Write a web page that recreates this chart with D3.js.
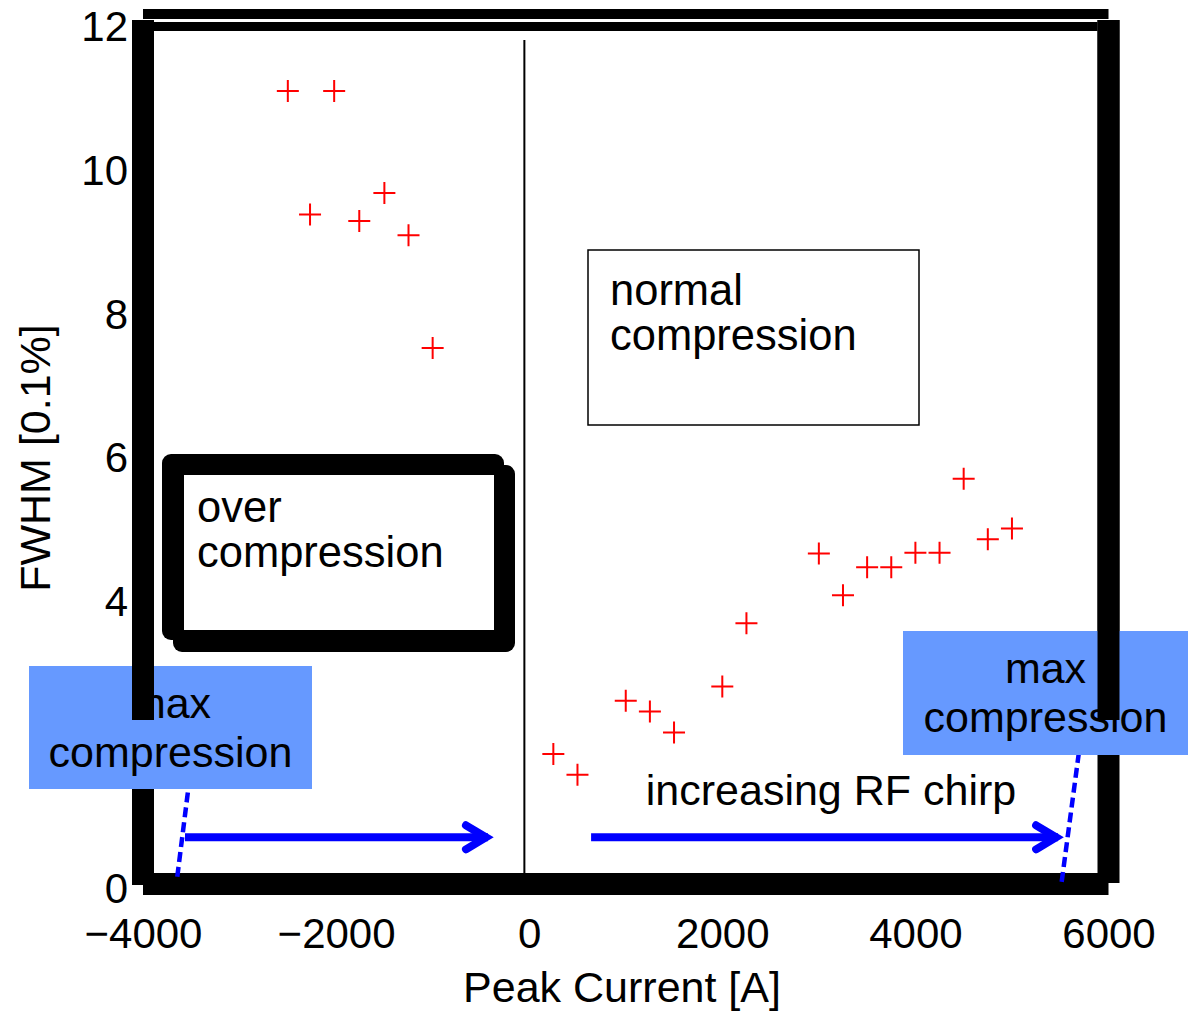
<!DOCTYPE html>
<html>
<head>
<meta charset="utf-8">
<script src="https://cdn.jsdelivr.net/npm/d3@7"></script>
<style>
  html, body { margin: 0; padding: 0; background: #fff; }
  svg { display: block; }
  text { font-family: "Liberation Sans", Arial, Helvetica, sans-serif; fill: #000; }
</style>
</head>
<body>
<svg id="chart" width="1188" height="1012"></svg>
<script>
// Measured bunch length (FWHM) versus peak current
const peakCurrent = [-2500, -2270, -2020, -1760, -1500, -1250, -1000,
                     250, 500, 1000, 1250, 1500, 2000, 2250, 3000, 3250,
                     3500, 3750, 4000, 4250, 4500, 4750, 5000];
const fwhm = [11.04, 9.32, 11.04, 9.23, 9.62, 9.03, 7.46,
              1.81, 1.52, 2.55, 2.40, 2.11, 2.75, 3.63, 4.60, 4.02,
              4.41, 4.41, 4.61, 4.61, 5.64, 4.80, 4.95];

const xTicks = [-4000, -2000, 0, 2000, 4000, 6000];
const yTicks = [0, 2, 4, 6, 8, 10, 12];
const xDomain = [-4000, 6000];
const yDomain = [0, 12];

// Regime boundary and chirp-direction arrows (data units)
const boundaryX = -50;
const boundaryTop = 11.75;
const arrowStartX = [-3565, 641];
const arrowTipX = [-365, 5540];
const arrowY = 0.65;
// Max-compression guide lines: [x0, y0, x1, y1]
const maxCompLines = [[-3645, 0.1, -3440, 2.3], [5515, 0.03, 5730, 2.2]];

const svg = d3.select("#chart");
const x = d3.scaleLinear().domain(xDomain).range([143, 1108.5]);
const y = d3.scaleLinear().domain(yDomain).range([884, 22]);

const X0 = x(xDomain[0]), X1 = x(xDomain[1]);
const Y0 = y(yDomain[0]), Y1 = y(yDomain[1]);
const W = 22; // axis frame thickness

// Axis frame (heavy box)
const frame = svg.append("g").attr("fill", "#000");
frame.append("rect").attr("x", X0 - W / 2).attr("y", Y1 - 2).attr("width", W).attr("height", Y0 - Y1 + 3);
frame.append("rect").attr("x", X1 - W / 2).attr("y", Y1 - 2).attr("width", W).attr("height", Y0 - Y1 + 1);
frame.append("rect").attr("x", X0).attr("y", Y0 - W / 2).attr("width", X1 - X0).attr("height", W);
frame.append("rect").attr("x", X0).attr("y", Y1 - 13).attr("width", X1 - X0).attr("height", 10);
frame.append("rect").attr("x", X0 + W / 2).attr("y", Y1).attr("width", X1 - X0 - W).attr("height", 9);

// Tick labels
const fmt = d => (d < 0 ? "\u2212" + Math.abs(d) : String(d));
const xAxis = svg.append("g").attr("transform", `translate(0,${Y0})`)
  .call(d3.axisBottom(x).tickValues(xTicks).tickSize(0).tickPadding(34).tickFormat(fmt));
const yAxis = svg.append("g").attr("transform", `translate(${X0},0)`)
  .call(d3.axisLeft(y).tickValues(yTicks).tickSize(0).tickPadding(15).tickFormat(fmt));
[xAxis, yAxis].forEach(g => {
  g.select(".domain").remove();
  g.selectAll("text").attr("font-size", 42).attr("fill", "#000")
    .attr("font-family", "Liberation Sans, Arial, Helvetica, sans-serif");
});
yAxis.selectAll("text").attr("dy", "0.45em");

// Axis titles
svg.append("text").attr("x", 622).attr("y", 1002).attr("text-anchor", "middle")
  .attr("font-size", 43).text("Peak Current [A]");
svg.append("text").attr("transform", "translate(50,458) rotate(-90)").attr("text-anchor", "middle")
  .attr("font-size", 43).text("FWHM [0.1%]");

// Boundary between over- and normal compression
svg.append("line").attr("x1", x(boundaryX)).attr("x2", x(boundaryX))
  .attr("y1", y(boundaryTop)).attr("y2", Y0 - W / 2)
  .attr("stroke", "#000").attr("stroke-width", 2);

// Data markers
const pts = peakCurrent.map((v, i) => [v, fwhm[i]]);
const arm = 11;
svg.append("g").selectAll("path").data(pts).join("path")
  .attr("d", d => {
    const cx = x(d[0]), cy = y(d[1]);
    return `M${cx - arm},${cy}H${cx + arm}M${cx},${cy - arm}V${cy + arm}`;
  })
  .attr("stroke", "#ff0000").attr("stroke-width", 2).attr("fill", "none");

// Dashed max-compression guides
svg.append("g").selectAll("line").data(maxCompLines).join("line")
  .attr("x1", d => x(d[0])).attr("y1", d => y(d[1]))
  .attr("x2", d => x(d[2])).attr("y2", d => y(d[3]))
  .attr("stroke", "#0000ff").attr("stroke-width", 4.5).attr("stroke-dasharray", "10,5");

// Chirp arrows
const arrows = arrowStartX.map((s, i) => ({ s, t: arrowTipX[i] }));
const ag = svg.append("g").attr("stroke", "#0000ff").attr("stroke-width", 8).attr("fill", "none");
arrows.forEach(a => {
  const xs = x(a.s), xt = x(a.t), yy = y(arrowY);
  ag.append("line").attr("x1", xs).attr("x2", xt - 6).attr("y1", yy).attr("y2", yy);
  ag.append("path")
    .attr("d", `M${xt - 28},${yy - 12}L${xt - 8},${yy}L${xt - 28},${yy + 12}`)
    .attr("stroke-linecap", "round").attr("stroke-linejoin", "miter").attr("stroke-miterlimit", 10);
});

// "max compression" labels
const blueBoxes = [
  { x: 29, y: 666, w: 283, h: 123 },
  { x: 903, y: 631, w: 285, h: 124 }
];
blueBoxes.forEach(b => {
  svg.append("rect").attr("x", b.x).attr("y", b.y).attr("width", b.w).attr("height", b.h)
    .attr("fill", "#6699ff");
  const t = svg.append("text").attr("text-anchor", "middle").attr("font-size", 43);
  t.append("tspan").attr("x", b.x + b.w / 2).attr("y", b.y + 52).text("max");
  t.append("tspan").attr("x", b.x + b.w / 2).attr("y", b.y + 101).text("compression");
});

// Upper parts of the side frame lines lie on top of the labels
svg.append("rect").attr("x", X0 - W / 2).attr("y", Y1 - 2).attr("width", W).attr("height", 720 - Y1 + 2).attr("fill", "#000");
svg.append("rect").attr("x", X1 - W / 2).attr("y", Y1 - 2).attr("width", W).attr("height", 720 - Y1 + 2).attr("fill", "#000");

// "increasing RF chirp"
svg.append("text").attr("x", 831).attr("y", 805).attr("text-anchor", "middle")
  .attr("font-size", 43).text("increasing RF chirp");

// "normal compression" box
svg.append("rect").attr("x", 588).attr("y", 250).attr("width", 331).attr("height", 175)
  .attr("fill", "none").attr("stroke", "#000").attr("stroke-width", 1.5);
const tn = svg.append("text").attr("font-size", 43.5);
tn.append("tspan").attr("x", 610).attr("y", 305).text("normal");
tn.append("tspan").attr("x", 610).attr("y", 350).text("compression");

// "over compression" box with heavy border
svg.append("rect").attr("x", 162).attr("y", 454).attr("width", 342).attr("height", 186).attr("rx", 9).attr("fill", "#000");
svg.append("rect").attr("x", 173).attr("y", 465).attr("width", 342).attr("height", 187).attr("rx", 9).attr("fill", "#000");
svg.append("rect").attr("x", 184).attr("y", 475).attr("width", 310).attr("height", 155).attr("fill", "#fff");
const to = svg.append("text").attr("font-size", 43.5);
to.append("tspan").attr("x", 197).attr("y", 522).text("over");
to.append("tspan").attr("x", 197).attr("y", 567).text("compression");
</script>
</body>
</html>
